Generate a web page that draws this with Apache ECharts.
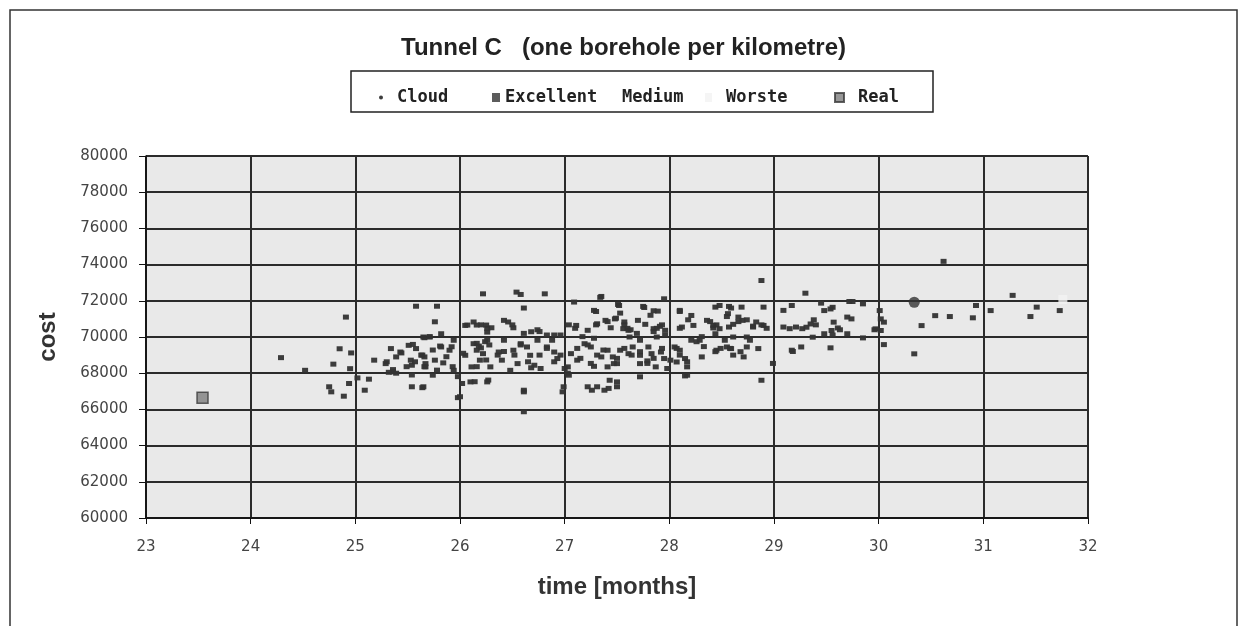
<!DOCTYPE html>
<html>
<head>
<meta charset="utf-8">
<title>Tunnel C</title>
<script src="https://cdn.jsdelivr.net/npm/echarts@6/dist/echarts.min.js"></script>
<style>
  html, body { margin: 0; padding: 0; background: #fff; }
  #chart { width: 1247px; height: 626px; }
</style>
</head>
<body>
<div id="chart"></div>
<script>
// axis ticks
const monthTicks = [23, 24, 25, 26, 27, 28, 29, 30, 31, 32];
const costTicks = [60000, 62000, 64000, 66000, 68000, 70000, 72000, 74000, 76000, 78000, 80000];

// cloud points [month, cost]
const cloud24 = [
  [24.29, 68860], [24.52, 68160], [24.91, 71100], [24.85, 69350], [24.96, 69120],
  [24.79, 68500], [24.95, 68250], [24.75, 67250], [24.77, 66970], [24.89, 66730], [24.94, 67430]
];
const cloud25 = [
  [25.02, 67740], [25.09, 67060], [25.13, 67670], [25.18, 68720], [25.29, 68530], [25.32, 68050],
  [25.36, 68200], [25.39, 68000], [25.34, 69360], [25.39, 68900], [25.43, 69170], [25.51, 69540],
  [25.53, 68720], [25.54, 68440], [25.58, 69360], [25.64, 69000], [25.67, 68530], [25.54, 67250],
  [25.64, 67200], [25.54, 67900], [25.66, 69960], [25.58, 71700], [25.78, 71700], [25.76, 70840],
  [25.65, 70000], [25.71, 70000], [25.82, 70180], [25.94, 69820], [25.82, 69450], [25.90, 69270],
  [25.66, 68900], [25.76, 68720], [25.84, 68570], [25.67, 68350], [25.74, 67890], [25.94, 68160],
  [25.65, 67250], [25.98, 66650], [25.30, 68630], [25.36, 68070], [25.44, 69120], [25.49, 68360],
  [25.55, 69590], [25.57, 68630], [25.63, 69000], [25.66, 68360], [25.71, 70020], [25.74, 69280],
  [25.78, 68170], [25.81, 69500], [25.87, 68910], [25.92, 69460], [25.93, 68360], [25.98, 67810]
];
const cloud26 = [
  [26.22, 72385], [26.54, 72480], [26.58, 72350], [26.81, 72385], [26.61, 71600], [26.13, 70830],
  [26.05, 70640], [26.30, 70510], [26.42, 70920], [26.46, 70830], [26.51, 70510], [26.74, 70400],
  [26.26, 70270], [26.13, 69630], [26.16, 69270], [26.22, 69080], [26.05, 68990], [26.19, 68720],
  [26.11, 68350], [26.29, 68350], [26.40, 68720], [26.37, 69170], [26.51, 69270], [26.58, 69630],
  [26.64, 69450], [26.67, 68990], [26.55, 68530], [26.71, 68440], [26.48, 68160], [26.77, 68260],
  [26.83, 69450], [26.90, 69170], [26.93, 68810], [26.88, 69820], [26.74, 69820], [26.42, 69820],
  [26.26, 69820], [26.26, 67520], [26.10, 67520], [26.02, 67430], [26.00, 66700], [26.61, 67060],
  [26.61, 65870], [26.99, 67250], [26.20, 70670], [26.26, 70480], [26.50, 70670], [26.61, 70200],
  [26.68, 70290], [26.76, 70300], [26.83, 70110], [26.90, 70110], [26.96, 70110], [26.20, 69400],
  [26.24, 69740], [26.28, 69560], [26.36, 69000], [26.42, 69200], [26.52, 69000], [26.58, 69560],
  [26.65, 68630], [26.68, 68300], [26.76, 69000], [26.83, 69370], [26.90, 68630], [26.96, 69000],
  [26.61, 66970], [26.98, 66970], [26.03, 69100], [26.07, 70660], [26.16, 70660], [26.25, 70660],
  [26.16, 69650], [26.18, 69500], [26.16, 68360], [26.25, 68730], [26.27, 67620], [26.14, 67530]
];
const cloud27 = [
  [27.03, 68000], [27.03, 68350], [27.09, 71930], [27.28, 71470], [27.35, 72240], [27.11, 70640],
  [27.22, 70370], [27.31, 70730], [27.39, 70920], [27.44, 70510], [27.19, 69630], [27.25, 69450],
  [27.35, 68900], [27.41, 69270], [27.47, 68530], [27.28, 68380], [27.22, 67250], [27.31, 67250],
  [27.42, 67160], [27.06, 69080], [27.12, 68720], [27.51, 71800], [27.75, 71690], [27.85, 71450],
  [27.89, 71430], [27.82, 71200], [27.48, 71000], [27.57, 70830], [27.61, 70370], [27.56, 70460],
  [27.70, 70920], [27.77, 70700], [27.85, 70460], [27.91, 70590], [27.96, 70370], [27.88, 70000],
  [27.62, 70000], [27.72, 69820], [27.65, 69450], [27.53, 69270], [27.46, 68900], [27.50, 68530],
  [27.61, 69080], [27.72, 68990], [27.80, 69450], [27.83, 69080], [27.92, 69170], [27.95, 68810],
  [27.87, 68350], [27.72, 68530], [27.79, 68680], [27.43, 67610], [27.72, 67800], [27.50, 67250],
  [27.34, 72190], [27.30, 71410], [27.95, 72110], [27.52, 71740], [27.76, 71630], [27.53, 71320],
  [27.04, 70670], [27.10, 70480], [27.17, 70020], [27.28, 69930], [27.30, 70670], [27.41, 70850],
  [27.49, 71040], [27.57, 70670], [27.60, 70480], [27.63, 70400], [27.69, 70200], [27.85, 70300],
  [27.88, 70480], [27.93, 70670], [27.96, 70110], [27.00, 68260], [27.04, 67890], [27.12, 69370],
  [27.22, 69560], [27.15, 68820], [27.25, 68540], [27.31, 69000], [27.37, 69280], [27.41, 68350],
  [27.50, 68820], [27.57, 69370], [27.64, 69000], [27.72, 69190], [27.79, 68540], [27.85, 68820],
  [27.93, 69370], [27.98, 68260], [27.26, 67060], [27.38, 67060], [27.50, 67520]
];
const cloud28 = [
  [28.01, 68720], [28.07, 68620], [28.10, 69270], [28.15, 68810], [28.17, 68350], [28.05, 69450],
  [28.21, 69820], [28.29, 69820], [28.31, 68900], [28.10, 71470], [28.12, 70550], [28.21, 71190],
  [28.23, 70640], [28.36, 70920], [28.42, 70640], [28.44, 71650], [28.48, 71740], [28.56, 71290],
  [28.57, 71690], [28.69, 71650], [28.66, 71100], [28.70, 70920], [28.57, 70550], [28.48, 70460],
  [28.44, 70180], [28.53, 69820], [28.61, 70000], [28.74, 70000], [28.77, 69820], [28.55, 69450],
  [28.45, 69270], [28.59, 69360], [28.71, 68900], [28.85, 69360], [28.74, 69450], [28.83, 70830],
  [28.90, 70640], [28.90, 71650], [28.80, 70550], [28.88, 67610], [28.88, 73120], [28.17, 67890],
  [28.10, 71410], [28.59, 71600], [28.55, 71130], [28.10, 70480], [28.18, 70950], [28.31, 70020],
  [28.39, 70850], [28.42, 70500], [28.45, 70670], [28.61, 70700], [28.66, 70850], [28.74, 70950],
  [28.80, 70600], [28.88, 70670], [28.93, 70480], [28.07, 69370], [28.10, 69000], [28.17, 68630],
  [28.26, 69740], [28.33, 69470], [28.44, 69190], [28.49, 69370], [28.58, 69370], [28.61, 69000],
  [28.68, 69190], [28.99, 68540], [28.15, 67850]
];
const cloud29 = [
  [29.09, 71470], [29.17, 71740], [29.09, 70550], [29.15, 70460], [29.21, 70550], [29.27, 70460],
  [29.17, 69270], [29.26, 69450], [29.30, 72420], [29.45, 71870], [29.72, 71960], [29.75, 71960],
  [29.85, 71830], [29.56, 71640], [29.48, 71460], [29.70, 71100], [29.74, 71000], [29.38, 70950],
  [29.35, 70720], [29.31, 70540], [29.57, 70820], [29.61, 70500], [29.55, 70360], [29.48, 70180],
  [29.37, 69990], [29.70, 70180], [29.85, 69950], [29.54, 69400], [29.97, 70450], [29.54, 71550],
  [29.40, 70670], [29.56, 70110], [29.63, 70400], [29.96, 70400], [29.18, 69200]
];
const cloud30 = [
  [30.01, 71460], [30.02, 71000], [30.05, 70820], [30.02, 70360], [30.05, 69580], [30.41, 70630],
  [30.34, 69070], [30.54, 71180], [30.68, 71130], [30.90, 71060], [30.93, 71740], [31.07, 71460],
  [30.62, 74180], [31.28, 72300], [31.51, 71650], [31.45, 71130], [31.73, 71460]
];

// single scenario points
const excellentData = [[30.34, 71920]];
const mediumData = [];
const worsteData = [[31.76, 72080]];
const realData = [[23.54, 66650]];

const cloudData = [].concat(cloud24, cloud25, cloud26, cloud27, cloud28, cloud29, cloud30);

const chart = echarts.init(document.getElementById('chart'));

const legendText = {
  fontFamily: 'DejaVu Sans Mono',
  fontWeight: 'bold',
  fontSize: 17,
  color: '#222'
};

function oneLegend(name, left, w, h, icon, pad) {
  return {
    data: [{name: name, icon: icon}],
    left: left,
    top: 84,
    itemWidth: w,
    itemHeight: h,
    selectedMode: false,
    textStyle: Object.assign({padding: [0, 0, 0, pad]}, legendText)
  };
}

const option = {
  backgroundColor: '#fff',
  animation: false,
  title: {
    text: 'Tunnel C   (one borehole per kilometre)',
    left: 'center',
    top: 31,
    textStyle: {fontFamily: 'Liberation Sans', fontWeight: 'bold', fontSize: 24, color: '#222'}
  },
  graphic: [
    {
      type: 'rect',
      shape: {x: 10, y: 10, width: 1227, height: 700},
      style: {fill: 'none', stroke: '#333', lineWidth: 1.5},
      silent: true
    },
    {
      type: 'rect',
      shape: {x: 351, y: 71, width: 582, height: 41},
      style: {fill: '#fff', stroke: '#222', lineWidth: 1.5},
      silent: true
    }
  ],
  legend: [
    oneLegend('Cloud', 374, 4, 4, 'circle', 9),
    oneLegend('Excellent', 487, 8, 9, 'rect', 0),
    oneLegend('Medium', 604, 8, 8, 'rect', 0),
    oneLegend('Worste', 700, 7, 9, 'rect', 9),
    oneLegend('Real', 829, 9, 9, 'rect', 9)
  ],
  grid: {
    left: 146,
    right: 159,
    top: 156,
    bottom: 108,
    show: true,
    backgroundColor: '#e9e9e9',
    borderWidth: 0
  },
  xAxis: {
    type: 'value',
    min: monthTicks[0],
    max: monthTicks[monthTicks.length - 1],
    interval: 1,
    name: 'time [months]',
    nameLocation: 'middle',
    nameGap: 57,
    nameTextStyle: {fontFamily: 'Liberation Sans', fontWeight: 'bold', fontSize: 24, color: '#333'},
    axisLine: {show: true, lineStyle: {color: '#111', width: 1.5}},
    axisTick: {show: true, length: 6, lineStyle: {color: '#111'}},
    axisLabel: {margin: 22, fontFamily: 'DejaVu Sans', fontSize: 15, color: '#444'},
    splitLine: {show: true, lineStyle: {color: '#2b2b2b', width: 2}}
  },
  yAxis: {
    type: 'value',
    min: costTicks[0],
    max: costTicks[costTicks.length - 1],
    interval: 2000,
    name: 'cost',
    nameLocation: 'middle',
    nameGap: 86,
    nameTextStyle: {fontFamily: 'Liberation Sans', fontWeight: 'bold', fontSize: 24, color: '#333'},
    axisLine: {show: true, lineStyle: {color: '#111', width: 1.5}},
    axisTick: {show: true, length: 7, lineStyle: {color: '#111'}},
    axisLabel: {
      margin: 18,
      fontFamily: 'DejaVu Sans',
      fontSize: 15,
      color: '#444',
      formatter: v => String(v)
    },
    splitLine: {show: true, lineStyle: {color: '#2b2b2b', width: 2}}
  },
  series: [
    {
      name: 'Cloud',
      type: 'scatter',
      symbol: 'rect',
      symbolSize: [6, 5],
      itemStyle: {color: '#333', opacity: 0.95},
      data: cloudData
    },
    {
      name: 'Excellent',
      type: 'scatter',
      symbol: 'circle',
      symbolSize: 11,
      itemStyle: {color: '#333'},
      data: excellentData
    },
    {
      name: 'Medium',
      type: 'scatter',
      symbol: 'rect',
      symbolSize: 8,
      itemStyle: {color: '#fff'},
      data: mediumData
    },
    {
      name: 'Worste',
      type: 'scatter',
      symbol: 'rect',
      symbolSize: 9,
      itemStyle: {color: '#f2f2f2'},
      data: worsteData
    },
    {
      name: 'Real',
      type: 'scatter',
      symbol: 'rect',
      symbolSize: 11,
      itemStyle: {color: '#7d7d7d', borderColor: '#3a3a3a', borderWidth: 1.5},
      data: realData
    }
  ]
};

chart.setOption(option);
window.addEventListener('resize', () => chart.resize());
</script>
</body>
</html>
